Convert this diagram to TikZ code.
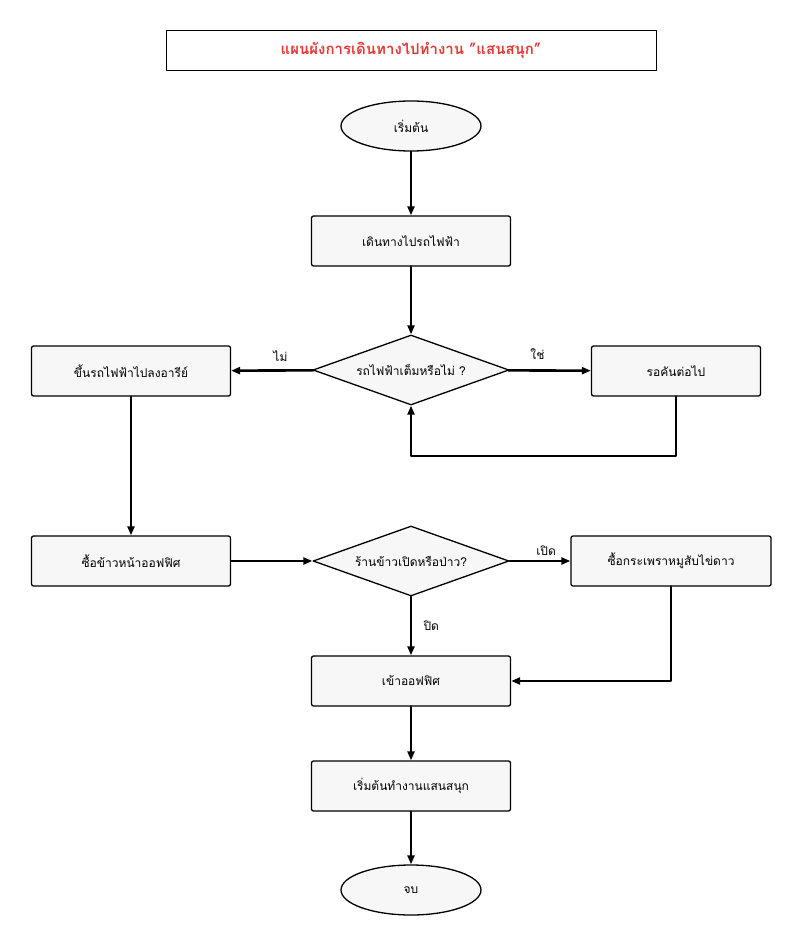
\documentclass[tikz,border=0pt]{standalone}
\usepackage{fontspec}
\setmainfont[Script=Thai]{Loma}
\usetikzlibrary{arrows.meta, shapes.geometric}
\definecolor{boxfill}{HTML}{F7F7F7}
\definecolor{titlered}{HTML}{E53935}

\begin{document}
\begin{tikzpicture}[x=1pt, y=-1pt, >={Triangle[length=9pt,width=7pt]}, line cap=round, line join=round,
	box/.style={draw, line width=1.3pt, rounded corners=2pt, fill=boxfill, minimum width=199pt, minimum height=50pt, font=\fontsize{12}{14}\selectfont},
	term/.style={draw, line width=1.3pt, ellipse, fill=boxfill, minimum width=140pt, minimum height=50pt, font=\fontsize{12}{14}\selectfont},
	dec/.style={draw, line width=1.3pt, diamond, aspect=2.8, fill=boxfill, minimum width=196pt, minimum height=70pt, inner sep=0pt, font=\fontsize{12}{14}\selectfont},
	flow/.style={->, line width=2.6pt},
	lbl/.style={font=\fontsize{12}{14}\selectfont}]

\useasboundingbox (0,0) rectangle (802,952);

% ==== title ====
\node[draw, line width=0.8pt, minimum width=490pt, minimum height=40pt, text=titlered, font=\fontsize{15}{18}\selectfont\bfseries] (title) at (411,50) {แผนผังการเดินทางไปทำงาน "แสนสนุก"};

% ==== nodes ====
\node[term] (start) at (411,126) {เริ่มต้น};
\node[box] (walk) at (411,241) {เดินทางไปรถไฟฟ้า};
\node[dec] (full) at (411,370) {รถไฟฟ้าเต็มหรือไม่ ?};
\node[box] (ride) at (131,371) {ขึ้นรถไฟฟ้าไปลงอารีย์};
\node[box, minimum width=169pt] (wait) at (676,371) {รอคันต่อไป};
\node[box] (buy) at (131,561) {ซื้อข้าวหน้าออฟฟิศ};
\node[dec] (open) at (411,561) {ร้านข้าวเปิดหรือป่าว?};
\node[box, minimum width=200pt] (krapao) at (671,561) {ซื้อกระเพราหมูสับไข่ดาว};
\node[box] (office) at (411,681) {เข้าออฟฟิศ};
\node[box] (work) at (411,786) {เริ่มต้นทำงานแสนสนุก};
\node[term] (stop) at (411,890) {จบ};

% ==== connectors ====
\draw[flow] (start) -- (walk);
\draw[flow] (walk) -- (full);
\draw[flow] (full) -- node[lbl, above=4pt, pos=0.4] {ไม่} (ride);
\draw[flow] (full) -- node[lbl, above=6pt, pos=0.35] {ใช่} (wait);
\draw[flow] (wait.south) |- (411,456) -- (full.south);
\draw[flow] (ride) -- (buy);
\draw[flow] (buy) -- (open);
\draw[flow] (open) -- node[lbl, above=1pt, pos=0.6] {เปิด} (krapao);
\draw[flow] (open) -- node[lbl, right=8pt] {ปิด} (office);
\draw[flow] (krapao.south) |- (office.east);
\draw[flow] (office) -- (work);
\draw[flow] (work) -- (stop);

\end{tikzpicture}
\end{document}
